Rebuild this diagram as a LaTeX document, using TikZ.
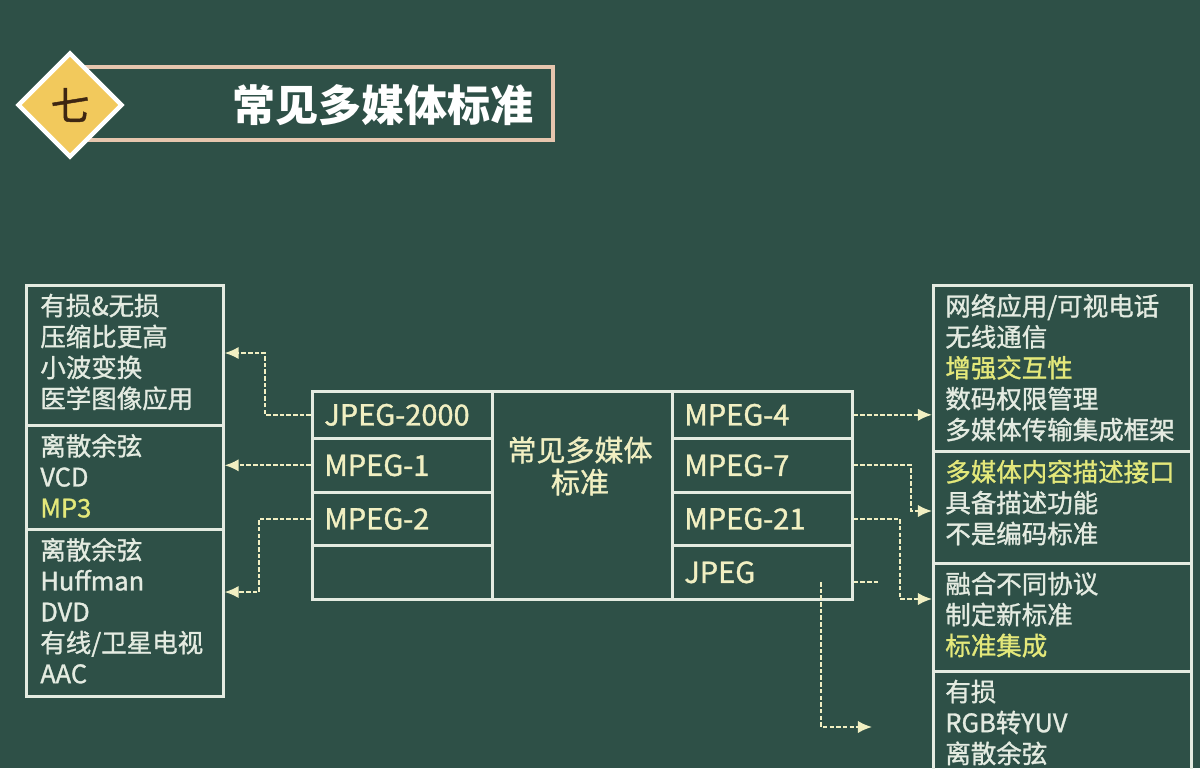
\documentclass[tikz,border=0pt]{standalone}
\usepackage{fontspec}
\setmainfont{Noto Sans CJK SC}
\newfontfamily\chalkfont[FakeBold=1.2]{Noto Sans CJK SC}
\usetikzlibrary{arrows.meta,shapes.geometric}

\definecolor{board}{HTML}{2E5047}
\definecolor{chalk}{HTML}{E4EBE1}
\definecolor{cream}{HTML}{F1EFC2}
\definecolor{hilite}{HTML}{E4E87A}
\definecolor{gold}{HTML}{F2C95C}
\definecolor{peach}{HTML}{E6C6AE}
\definecolor{brownink}{HTML}{3E2612}

\newcommand{\yel}[1]{\textcolor{hilite}{#1}}

\begin{document}
\begin{tikzpicture}[x=0.02cm, y=-0.02cm,
	frame/.style={draw=chalk, line width=1.5pt, inner sep=0pt, anchor=north west},
	cell/.style={frame, minimum width=3.6cm, text width=3.12cm, inner xsep=0.24cm,
		align=left, text=cream, font=\chalkfont\fontsize{16.5}{19}\selectfont},
	note/.style={anchor=north west, inner sep=0pt, align=left, text=chalk,
		font=\chalkfont\fontsize{14.5}{17.6}\selectfont},
	link/.style={cream, line width=1.1pt, dash pattern=on 2.6pt off 1.2pt,
		-{Latex[length=8pt,width=7pt]}}]

	% background
	\useasboundingbox (0,0) rectangle (1200,768);
	\clip (0,0) rectangle (1200,768);
	\fill[board] (0,0) rectangle (1200,768);

	% title
	\node[draw=peach, line width=2pt, minimum width=9.36cm, minimum height=1.46cm] (banner) at (319,103.5) {};
	\node[diamond, aspect=1, fill=gold, draw=white, line width=2.5pt, minimum width=2.1cm,
		minimum height=2.1cm, inner sep=0pt, text=brownink, font=\chalkfont\fontsize{22}{22}\selectfont] (badge) at (70,105) {七};
	\node[text=white, font=\fontsize{24.5}{26}\bfseries] (title) at (383,105) {常见多媒体标准};

	% left boxes
	\node[frame, minimum width=3.94cm, minimum height=2.8cm] (l1) at (25,284) {};
	\node[frame, minimum width=3.94cm, minimum height=2.08cm] (l2) at (25,424) {};
	\node[frame, minimum width=3.94cm, minimum height=3.34cm] (l3) at (25,528) {};
	\node[note] (l1txt) at ([shift={(15,9.5)}]l1.north west) {有损\&无损\\压缩比更高\\小波变换\\医学图像应用};
	\node[note] (l2txt) at ([shift={(15,9.5)}]l2.north west) {离散余弦\\VCD\\\yel{MP3}};
	\node[note] (l3txt) at ([shift={(15,9.5)}]l3.north west) {离散余弦\\Huffman\\DVD\\有线/卫星电视\\AAC};

	% table
	\node[cell, minimum height=0.94cm] (j2k) at (311,390) {JPEG-2000};
	\node[cell, minimum height=1.08cm] (m1) at (311,437) {MPEG-1};
	\node[cell, minimum height=1.06cm] (m2) at (311,491) {MPEG-2};
	\node[cell, minimum height=1.08cm] (blank) at (311,544) {};
	\node[frame, minimum width=3.6cm, minimum height=4.16cm] (mid) at (491,390) {};
	\node[align=center, text=cream, font=\chalkfont\fontsize{16.5}{18.2}\selectfont] (midtxt) at (580,466) {常见多媒体\\标准};
	\node[cell, minimum height=0.94cm] (m4) at (671,390) {MPEG-4};
	\node[cell, minimum height=1.08cm] (m7) at (671,437) {MPEG-7};
	\node[cell, minimum height=1.06cm] (m21) at (671,491) {MPEG-21};
	\node[cell, minimum height=1.08cm] (jpg) at (671,544) {JPEG};

	% right boxes
	\node[frame, minimum width=5.16cm, minimum height=3.32cm] (r1) at (932,284) {};
	\node[frame, minimum width=5.16cm, minimum height=2.24cm] (r2) at (932,450) {};
	\node[frame, minimum width=5.16cm, minimum height=2.16cm] (r3) at (932,562) {};
	\node[frame, minimum width=5.16cm, minimum height=2.6cm] (r4) at (932,670) {};
	\node[note] (r1txt) at ([shift={(13,9.5)}]r1.north west) {网络应用/可视电话\\无线通信\\\yel{增强交互性}\\数码权限管理\\多媒体传输集成框架};
	\node[note] (r2txt) at ([shift={(13,9.5)}]r2.north west) {\yel{多媒体内容描述接口}\\具备描述功能\\不是编码标准};
	\node[note] (r3txt) at ([shift={(13,9.5)}]r3.north west) {融合不同协议\\制定新标准\\\yel{标准集成}};
	\node[note] (r4txt) at ([shift={(13,9.5)}]r4.north west) {有损\\RGB转YUV\\离散余弦};

	% links to the left
	\coordinate (k1) at (265,353);
	\coordinate (k2) at (259,592);
	\draw[link] (j2k.west) -| (k1) -- (k1 -| l1.east);
	\draw[link] (m1.west) -- (m1.west -| l2.east);
	\draw[link] (m2.west) -| (k2) -- (k2 -| l3.east);

	% links to the right
	\coordinate (k3) at (911,511);
	\coordinate (k4) at (900,599);
	\coordinate (k5) at (880,582);
	\coordinate (k6) at (821,582);
	\coordinate (k7) at (872,727);
	\draw[link] (m4.east) -- (m4.east -| r1.west);
	\draw[link] (m7.east) -| (k3) -- (k3 -| r2.west);
	\draw[link] (m21.east) -| (k4) -- (k4 -| r3.west);
	\draw[link, -] (jpg.east |- k5) -- (k5);
	\draw[link] (k6) |- (k7);

\end{tikzpicture}
\end{document}
